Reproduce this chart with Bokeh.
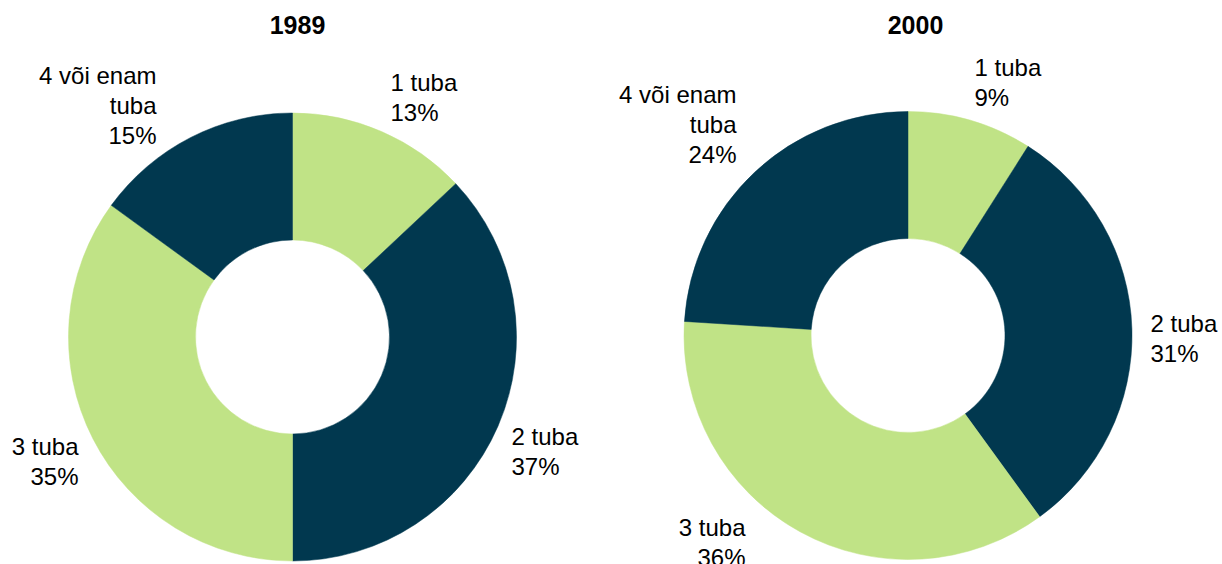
import numpy as np
from bokeh.plotting import figure
from bokeh.models import Range1d, ColumnDataSource
from bokeh.embed import file_html
from bokeh.resources import INLINE
from bokeh.core.properties import value

# ---- data ----
years = ["1989", "2000"]
categories = ["1 tuba", "2 tuba", "3 tuba", "4 või enam tuba"]
values_1989 = [13, 37, 35, 15]
values_2000 = [9, 31, 36, 24]
category_lines = {"4 või enam tuba": ["4 või enam", "tuba"]}

# ---- style / layout ----
GREEN = "#C0E386"
NAVY = "#01384F"
slice_colors = [GREEN, NAVY, GREEN, NAVY]
FONT = "Liberation Sans"

W, H = 1222, 564
PAGE_H = H  # data y = H - picture y

p = figure(width=W, height=H, x_range=Range1d(0, W), y_range=Range1d(0, H),
           output_backend="svg", toolbar_location=None, min_border=0,
           x_axis_location=None, y_axis_location=None)
p.grid.visible = False
p.outline_line_color = None
p.background_fill_color = "white"

centers = [(292, PAGE_H - 336.5), (907.5, PAGE_H - 335)]
title_pos = [(297, PAGE_H - 24), (915, PAGE_H - 24)]
r_out, r_in = 224, 97
# label anchors: (x, first-line centre picture y, align)
label_anchor = [
    [(390, 82, "left"), (511, 436, "left"), (78, 446, "right"), (156, 74.5, "right")],
    [(974, 66.5, "left"), (1150, 322.5, "left"), (745, 526.5, "right"), (736, 94, "right")],
]
LINE_STEP = 30

for ci, vals in enumerate([values_1989, values_2000]):
    vals = np.array(vals, dtype=float)
    frac = vals / vals.sum()
    cum = np.concatenate([[0], np.cumsum(frac)])
    start = np.pi / 2 - 2 * np.pi * cum[:-1]
    end = np.pi / 2 - 2 * np.pi * cum[1:]
    cx, cy = centers[ci]
    src = ColumnDataSource(dict(x=[cx] * len(vals), y=[cy] * len(vals),
                                start=start, end=end, color=slice_colors))
    p.annular_wedge(x="x", y="y", inner_radius=r_in, outer_radius=r_out,
                    start_angle="start", end_angle="end", direction="clock",
                    fill_color="color", line_color="color", line_width=0.5, source=src)

    # title
    tx, ty = title_pos[ci]
    p.text(x=[tx], y=[ty], text=[years[ci]], text_font=value(FONT), text_font_size="25px",
           text_font_style="bold", text_align="center", text_baseline="middle",
           text_color="black")

    # labels
    xs, ys, txt, al = [], [], [], []
    for k, cat in enumerate(categories):
        lines = category_lines.get(cat, [cat]) + [f"{int(vals[k])}%"]
        ax, ay, align = label_anchor[ci][k]
        for li, line in enumerate(lines):
            xs.append(ax)
            ys.append(PAGE_H - (ay + li * LINE_STEP))
            txt.append(line)
            al.append(align)
    for align in ("left", "right"):
        idx = [i for i, a in enumerate(al) if a == align]
        p.text(x=[xs[i] for i in idx], y=[ys[i] for i in idx], text=[txt[i] for i in idx],
               text_font=value(FONT), text_font_size="24px", text_align=align,
               text_baseline="middle", text_color="black")

open("out.html", "w").write(file_html(p, INLINE))
